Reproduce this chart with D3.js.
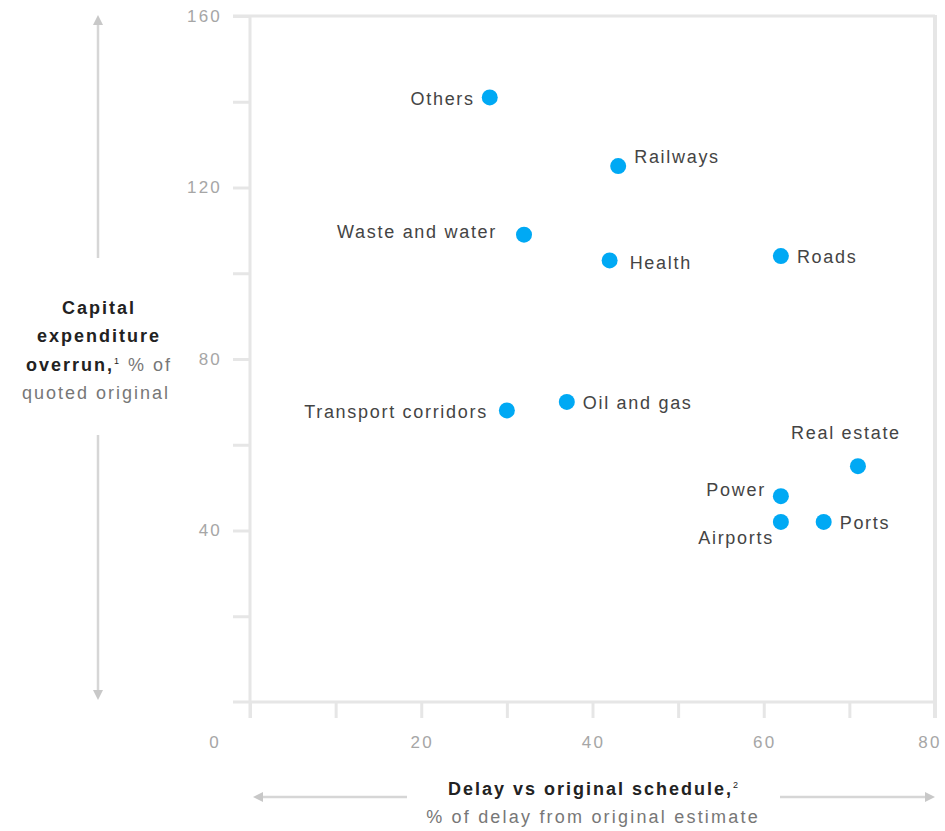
<!DOCTYPE html>
<html>
<head>
<meta charset="utf-8">
<script src="https://cdn.jsdelivr.net/npm/d3@7"></script>
<style>
  html, body { margin: 0; padding: 0; background: #fff; }
  svg { display: block; font-family: "Liberation Sans", Arial, sans-serif; }
</style>
</head>
<body>
<svg id="chart" width="945" height="831"></svg>
<script>
// Sector overruns: schedule delay (%) vs capital expenditure overrun (%)
const sectors = ["Others", "Railways", "Waste and water", "Health", "Roads",
  "Transport corridors", "Oil and gas", "Real estate", "Power", "Airports", "Ports"];
const delayPct = [28, 43, 32, 42, 62, 30, 37, 71, 62, 62, 67];
const overrunPct = [141, 125, 109, 103, 104, 68, 70, 55, 48, 42, 42];
// label placement relative to each dot
const labelSide = ["left", "right-up", "left-up", "right-down", "right",
  "left-far", "right", "above", "left-high", "below-left", "right"];

const xTicks = [20, 40, 60, 80];
const yTicks = [40, 80, 120, 160];

const svg = d3.select("#chart");
const axisColor = "#e6e6e6";
const tickTextColor = "#a6a6a6";
const dotColor = "#00a9f4";

const plotL = 250, plotR = 935, plotT = 16, plotB = 702;
const x = d3.scaleLinear().domain([0, 80]).range([plotL, plotR]);
const y = d3.scaleLinear().domain([0, 160]).range([plotB, plotT]);

// frame: top and right borders
svg.append("line").attr("x1", plotL - 17).attr("x2", plotR).attr("y1", plotT).attr("y2", plotT)
  .attr("stroke", axisColor).attr("stroke-width", 3);
svg.append("line").attr("x1", plotR).attr("x2", plotR).attr("y1", plotT - 1).attr("y2", plotB + 16)
  .attr("stroke", axisColor).attr("stroke-width", 4);

// left axis with outward ticks every 20
const yAxis = d3.axisLeft(y).tickValues(d3.range(20, 161, 20)).tickSize(17).tickFormat("").tickSizeOuter(0);
const gy = svg.append("g").attr("transform", `translate(${plotL},0)`).call(yAxis);
gy.select(".domain").remove();
gy.selectAll(".tick line").attr("stroke", axisColor).attr("stroke-width", 3);
svg.append("line").attr("x1", plotL).attr("x2", plotL).attr("y1", plotT).attr("y2", plotB + 16)
  .attr("stroke", axisColor).attr("stroke-width", 3);

// bottom axis with downward ticks every 10
const xAxis = d3.axisBottom(x).tickValues(d3.range(0, 81, 10)).tickSize(16).tickFormat("").tickSizeOuter(0);
const gx = svg.append("g").attr("transform", `translate(0,${plotB})`).call(xAxis);
gx.select(".domain").remove();
gx.selectAll(".tick line").attr("stroke", axisColor).attr("stroke-width", 3);
svg.append("line").attr("x1", plotL - 17).attr("x2", plotR).attr("y1", plotB).attr("y2", plotB)
  .attr("stroke", axisColor).attr("stroke-width", 3);

// tick labels
const tickFont = { size: 17, ls: 2.2 };
svg.append("g").selectAll("text").data(yTicks).join("text")
  .attr("x", 222).attr("y", d => y(d)).attr("dy", "0.35em")
  .attr("text-anchor", "end").attr("font-size", tickFont.size).attr("letter-spacing", tickFont.ls)
  .attr("fill", tickTextColor)
  .text(d => d);
svg.append("g").selectAll("text").data(xTicks).join("text")
  .attr("x", d => Math.min(x(d), 929) + 1).attr("y", 742).attr("dy", "0.35em")
  .attr("text-anchor", "middle").attr("font-size", tickFont.size).attr("letter-spacing", tickFont.ls)
  .attr("fill", tickTextColor)
  .text(d => d);
svg.append("text").attr("x", 214).attr("y", 742).attr("dy", "0.35em")
  .attr("text-anchor", "middle").attr("font-size", tickFont.size).attr("fill", tickTextColor).text("0");

// axis title arrows
const arrowColor = "#d6d6d6";
const defs = svg.append("defs");
defs.append("marker").attr("id", "arrow").attr("viewBox", "0 0 10 10")
  .attr("refX", 5).attr("refY", 5).attr("markerWidth", 4).attr("markerHeight", 4)
  .attr("orient", "auto-start-reverse")
  .append("path").attr("d", "M0,0 L10,5 L0,10 Z").attr("fill", "#c8c8c8");

function arrow(x1, y1, x2, y2) {
  svg.append("line").attr("x1", x1).attr("y1", y1).attr("x2", x2).attr("y2", y2)
    .attr("stroke", arrowColor).attr("stroke-width", 2.5).attr("marker-end", "url(#arrow)");
}
arrow(98, 258, 98, 20);
arrow(98, 435, 98, 695);
arrow(407, 797, 258, 797);
arrow(780, 797, 930, 797);

// y axis title
const titleLs = 2;
const yt = svg.append("text").attr("text-anchor", "middle").attr("font-size", 18).attr("letter-spacing", titleLs);
yt.append("tspan").attr("x", 99).attr("y", 314).attr("font-weight", "bold").attr("fill", "#222").text("Capital");
yt.append("tspan").attr("x", 99).attr("y", 342).attr("font-weight", "bold").attr("fill", "#222").text("expenditure");
const l3 = svg.append("text").attr("x", 99).attr("y", 371).attr("text-anchor", "middle")
  .attr("font-size", 18).attr("letter-spacing", titleLs);
l3.append("tspan").attr("font-weight", "bold").attr("fill", "#222").text("overrun,");
l3.append("tspan").attr("font-size", 9).attr("dy", -7).attr("fill", "#222").text("1");
l3.append("tspan").attr("dy", 7).attr("fill", "#777").text(" % of");
svg.append("text").attr("x", 96).attr("y", 399).attr("text-anchor", "middle").attr("font-size", 18)
  .attr("letter-spacing", titleLs).attr("fill", "#777").text("quoted original");

// x axis title
const xt = svg.append("text").attr("x", 594).attr("y", 795).attr("text-anchor", "middle")
  .attr("font-size", 18).attr("letter-spacing", titleLs);
xt.append("tspan").attr("font-weight", "bold").attr("fill", "#222").text("Delay vs original schedule,");
xt.append("tspan").attr("font-size", 9).attr("dy", -7).attr("fill", "#222").text("2");
svg.append("text").attr("x", 593).attr("y", 823).attr("text-anchor", "middle").attr("font-size", 18)
  .attr("letter-spacing", 2.2).attr("fill", "#777").text("% of delay from original estimate");

// dots
const pts = sectors.map((s, i) => ({ name: s, dx: delayPct[i], oy: overrunPct[i], side: labelSide[i] }));
svg.append("g").selectAll("circle").data(pts).join("circle")
  .attr("cx", d => x(d.dx)).attr("cy", d => y(d.oy)).attr("r", 8).attr("fill", dotColor);

// labels
const off = {
  "left": [-15, 1, "end"],
  "left-far": [-19, 1, "end"],
  "left-up": [-27, -3, "end"],
  "left-high": [-15, -7, "end"],
  "right": [16, 1, "start"],
  "right-up": [16, -9, "start"],
  "right-down": [20, 2, "start"],
  "above": [-12, -33, "middle"],
  "below-left": [-7, 16, "end"]
};
svg.append("g").selectAll("text").data(pts).join("text")
  .attr("x", d => x(d.dx) + off[d.side][0])
  .attr("y", d => y(d.oy) + off[d.side][1])
  .attr("dy", "0.35em")
  .attr("text-anchor", d => off[d.side][2])
  .attr("font-size", 18).attr("letter-spacing", 1.7).attr("fill", "#444")
  .text(d => d.name);
</script>
</body>
</html>
